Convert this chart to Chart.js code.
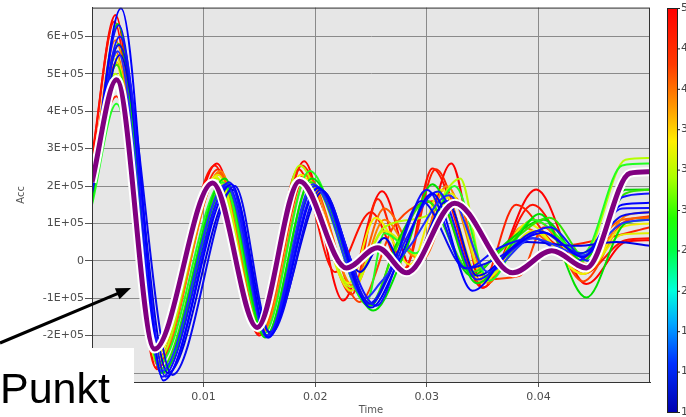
<!DOCTYPE html>
<html><head><meta charset="utf-8">
<script src="https://cdn.jsdelivr.net/npm/chart.js@4.4.1/dist/chart.umd.min.js"></script>
<style>html,body{margin:0;padding:0;background:#fff;overflow:hidden}</style>
</head><body>
<canvas id="c" width="686" height="417"></canvas>
<script>
// Axis ticks (Acc in units of 1E+05, Time in s)
const yTicks = [-3, -2, -1, 0, 1, 2, 3, 4, 5, 6];
const xTicks = [0.01, 0.02, 0.03, 0.04];
const cbLabels = ['5', '4', '4', '3', '3', '3', '2', '2', '1', '1', '1'];

// Highlighted (purple) curve: times and Acc values (x 1E+05)
const purpleT = [0, .0022, .0056, .0108, .0148, .0186, .0228, .0256, .0282, .0325, .0377, .0412, .0443, .0482, .05];
const purpleV = [2.1, 4.84, -2.36, 2.08, -1.78, 2.13, -0.19, 0.35, -0.32, 1.54, -0.32, 0.27, -0.19, 2.34, 2.38];

// Thin curves
const r1T = [0, .0021, .0058, .0112, .0150, .0190, .0225, .0260, .0288, .0322, .0350, .0398, .0443, .0478, .05];
const r1V = [2.8, 6.57, -2.9, 2.6, -2.0, 2.66, -1.06, 1.86, -0.3, 2.6, -0.72, 1.91, -0.62, 0.5, 0.55];
const r2T = [0, .0022, .0060, .0113, .0152, .0188, .0233, .0256, .0280, .0308, .0349, .0380, .0420, .0460, .05];
const r2V = [2.5, 4.4, -2.7, 2.45, -1.95, 2.55, -0.9, 1.65, -0.2, 2.45, -0.6, 1.5, 0.4, 0.6, 0.9];
const r3T = [0, .0022, .0059, .0114, .0151, .0192, .0240, .0270, .0310, .0345, .0383, .0405, .0440, .0475, .05];
const r3V = [2.3, 5.3, -2.8, 2.3, -1.9, 2.3, -1.1, 0.9, 1.6, -0.5, -0.4, 0.9, -0.55, 1.0, 1.2];
const r5T = [0, .0020, .0057, .0110, .0149, .0185, .0218, .0250, .0280, .0305, .0350, .0395, .0440, .0478, .05];
const r5V = [2.7, 6.4, -2.85, 2.55, -1.95, 2.45, -0.3, 1.3, -0.25, 2.47, -0.72, 1.5, -0.35, 0.55, 0.6];
const o1T = [0, .0021, .0060, .0115, .0153, .0193, .0235, .0262, .0290, .0318, .0352, .0395, .0445, .0478, .05];
const o1V = [2.2, 5.9, -2.6, 2.4, -1.9, 2.2, -0.7, 1.1, 0.1, 2.0, -0.5, 1.1, -0.1, 1.2, 1.3];
const o2T = [0, .0021, .0059, .0114, .0152, .0190, .0232, .0262, .0295, .0325, .0355, .0385, .0435, .0475, .05];
const o2V = [2.4, 5.6, -2.6, 2.35, -1.9, 2.3, -0.8, 1.4, 0.0, 1.7, -0.6, 0.9, 0.0, 1.1, 1.15];
const y1T = [0, .0020, .0057, .0111, .0150, .0187, .0230, .0254, .0285, .0313, .0350, .0390, .0440, .0475, .05];
const y1V = [2.0, 5.4, -2.55, 2.25, -1.85, 2.3, -0.6, 1.15, -0.1, 1.9, -0.6, 1.0, -0.35, 0.9, 1.0];
const y2T = [0, .0021, .0058, .0113, .0150, .0188, .0232, .0262, .0295, .0322, .0352, .0395, .0440, .0475, .05];
const y2V = [1.8, 5.5, -2.5, 2.3, -1.8, 2.2, -0.8, 0.8, 0.1, 1.8, -0.5, 0.8, -0.35, 0.7, 0.74];
const yg1T = [0, .0021, .0058, .0112, .0151, .0186, .0232, .0262, .0300, .0330, .0352, .0400, .0440, .0478, .05];
const yg1V = [1.7, 5.0, -2.7, 2.2, -1.9, 2.55, -0.7, 0.9, 1.2, 2.2, -0.4, 0.8, 0.1, 2.7, 2.75];
const g1T = [0, .0023, .0062, .0119, .0155, .0197, .0252, .0280, .0305, .0345, .0380, .0401, .0443, .0478, .05];
const g1V = [1.55, 6.33, -3.0, 2.2, -2.05, 2.2, -1.33, 0.2, 2.05, -0.6, 0.6, 1.25, -0.98, 1.0, 1.1];
const g2T = [0, .0022, .0060, .0117, .0154, .0195, .0246, .0262, .0290, .0325, .0356, .0395, .0440, .0475, .05];
const g2V = [1.5, 4.2, -2.75, 2.1, -1.95, 2.4, -1.1, 0.74, 0.2, 2.0, -0.53, 1.1, 0.2, 2.55, 2.6];
const g3T = [0, .0022, .0061, .0118, .0156, .0196, .0248, .0272, .0300, .0340, .0375, .0410, .0445, .0478, .05];
const g3V = [1.6, 5.24, -2.9, 2.0, -2.0, 2.1, -1.2, 0.3, 1.6, -0.3, 0.5, 1.15, 0.0, 1.8, 1.9];
const g4T = [0, .0024, .0063, .0120, .0156, .0199, .0250, .0272, .0300, .0340, .0372, .0405, .0440, .0478, .05];
const g4V = [1.65, 5.8, -3.0, 2.0, -2.0, 2.0, -1.2, 0.4, 1.6, -0.4, 0.5, 1.1, 0.0, 1.9, 1.91];
const b1T = [0, .0026, .0064, .0125, .0158, .0203, .0250, .0275, .0305, .0341, .0375, .0405, .0440, .0475, .05];
const b1V = [1.95, 6.75, -3.2, 2.05, -2.05, 1.95, -1.25, 0.0, 1.8, -0.8, 0.3, 0.75, 0.1, 1.5, 1.55];
const b2T = [0, .0025, .0066, .0123, .0157, .0200, .0255, .0280, .0310, .0345, .0380, .0410, .0445, .0475, .05];
const b2V = [1.9, 6.0, -3.1, 2.1, -2.0, 2.0, -1.2, 0.5, 1.85, -0.5, 0.4, 0.9, 0.0, 1.7, 1.8];
const b3T = [0, .0024, .0072, .0128, .0160, .0205, .0250, .0266, .0295, .0335, .0365, .0400, .0438, .0475, .05];
const b3V = [1.85, 5.77, -3.05, 2.0, -1.95, 1.9, -1.15, -0.4, 1.6, -0.2, 0.1, 0.8, 0.2, 1.2, 1.3];
const b4T = [0, .0023, .0062, .0120, .0157, .0198, .0245, .0258, .0285, .0320, .0355, .0395, .0440, .0475, .05];
const b4V = [2.0, 5.6, -2.95, 2.05, -2.0, 2.05, -1.0, -0.6, 0.4, 1.75, -0.3, 0.6, 0.15, 1.0, 1.1];
const b5T = [0, .0025, .0068, .0126, .0159, .0207, .0240, .0262, .0282, .0318, .0345, .0390, .0435, .0470, .05];
const b5V = [1.8, 5.5, -3.0, 1.9, -1.9, 1.85, -0.3, 0.61, -0.35, 1.6, -0.4, 0.5, 0.4, 0.5, 0.4];
const b6T = [0, .0024, .0063, .0122, .0157, .0202, .0248, .0275, .0300, .0335, .0365, .0395, .0435, .0475, .05];
const b6V = [2.0, 6.3, -3.1, 2.0, -2.05, 1.95, -1.15, 0.3, 1.9, -0.2, 0.35, 0.6, 0.0, 1.4, 1.41];

const thin = [
  [b1T, b1V, '#0000ff'], [b2T, b2V, '#1414ff'], [b3T, b3V, '#0a0af0'], [b4T, b4V, '#2030ff'],
  [b5T, b5V, '#0000e6'], [b6T, b6V, '#1010ff'],
  [g1T, g1V, '#00e000'], [g2T, g2V, '#22ff22'], [g3T, g3V, '#33e600'], [g4T, g4V, '#00d400'],
  [yg1T, yg1V, '#b4ff00'], [y1T, y1V, '#f0f000'], [y2T, y2V, '#e0f000'],
  [o1T, o1V, '#ff8000'], [o2T, o2V, '#ff6000'], [r3T, r3V, '#ff4000'],
  [r2T, r2V, '#ff2000'], [r5T, r5V, '#ff1000'], [r1T, r1V, '#ff0000']
];

const pts = (T, V) => T.map((t, i) => ({x: t, y: V[i]}));

const datasets = [
  {data: pts(purpleT, purpleV), borderColor: '#800080', borderWidth: 5, order: 0},
  {data: pts(purpleT, purpleV), borderColor: '#ffffff', borderWidth: 9, order: 1}
];
thin.forEach(([T, V, c]) => datasets.push({data: pts(T, V), borderColor: c, borderWidth: 2, order: 2}));
datasets.forEach(d => { d.pointRadius = 0; d.cubicInterpolationMode = 'monotone'; d.fill = false; });

Chart.defaults.font.family = '"DejaVu Sans", sans-serif';

const decor = {
  id: 'decor',
  beforeDraw(chart) {
    const {ctx, chartArea: a} = chart;
    ctx.save();
    ctx.fillStyle = '#e6e6e6';
    ctx.fillRect(a.left, a.top, a.right - a.left, a.bottom - a.top);
    ctx.restore();
  },
  afterDraw(chart) {
    const {ctx, chartArea: a} = chart;
    ctx.save();
    // frame
    ctx.strokeStyle = '#333';
    ctx.lineWidth = 1;
    ctx.strokeRect(a.left + 0.5, a.top + 0.5, a.right - a.left - 1, a.bottom - a.top);
    // colour bar
    const cx = 667, cw = 10, ct = 8, cb = 412;
    const g = ctx.createLinearGradient(0, ct, 0, cb);
    [[0, '#ff0000'], [0.14, '#ff3a00'], [0.24, '#ff9400'], [0.33, '#ffee00'], [0.42, '#aaff00'],
     [0.52, '#22ff00'], [0.6, '#00ff44'], [0.7, '#00ffdd'], [0.78, '#00a8ff'], [0.88, '#0030ff'], [1, '#0000b0']]
      .forEach(([o, c]) => g.addColorStop(o, c));
    ctx.fillStyle = g;
    ctx.fillRect(cx, ct, cw, cb - ct);
    ctx.strokeStyle = '#222';
    ctx.strokeRect(cx + 0.5, ct + 0.5, cw, cb - ct);
    ctx.fillStyle = '#444';
    ctx.font = '11px "DejaVu Sans"';
    ctx.textBaseline = 'middle';
    ctx.textAlign = 'left';
    cbLabels.forEach((l, i) => {
      const y = ct + i * (cb - ct) / (cbLabels.length - 1);
      ctx.beginPath(); ctx.moveTo(cx + cw, y + 0.5); ctx.lineTo(cx + cw + 3, y + 0.5); ctx.stroke();
      ctx.fillText(l, cx + cw + 4, y);
    });
    // annotation box
    ctx.fillStyle = '#ffffff';
    ctx.fillRect(0, 348, 134, 69);
    ctx.fillStyle = '#000';
    ctx.font = '43px "Liberation Sans", Arial, sans-serif';
    ctx.textBaseline = 'alphabetic';
    ctx.fillText('Punkt', 0, 403);
    // arrow
    const x0 = 0, y0 = 343, x1 = 131, y1 = 288;
    const ang = Math.atan2(y1 - y0, x1 - x0);
    ctx.strokeStyle = '#000'; ctx.lineWidth = 3;
    ctx.beginPath(); ctx.moveTo(x0, y0);
    ctx.lineTo(x1 - 12 * Math.cos(ang), y1 - 12 * Math.sin(ang)); ctx.stroke();
    ctx.beginPath();
    ctx.moveTo(x1, y1);
    ctx.lineTo(x1 - 15 * Math.cos(ang) + 6 * Math.sin(ang), y1 - 15 * Math.sin(ang) - 6 * Math.cos(ang));
    ctx.lineTo(x1 - 15 * Math.cos(ang) - 6 * Math.sin(ang), y1 - 15 * Math.sin(ang) + 6 * Math.cos(ang));
    ctx.closePath(); ctx.fill();
    ctx.restore();
  }
};

new Chart(document.getElementById('c'), {
  type: 'line',
  data: {datasets},
  options: {
    responsive: false, animation: false, devicePixelRatio: 1,
    layout: {padding: {top: 5, right: 36, left: 0, bottom: 0}},
    plugins: {legend: {display: false}, tooltip: {enabled: false}},
    scales: {
      x: {
        type: 'linear', min: 0, max: 0.05,
        afterBuildTicks: s => { s.ticks = xTicks.map(v => ({value: v})); },
        afterFit: s => { s.height = 35; },
        grid: {color: '#8a8a8a', tickColor: '#555', tickLength: 5},
        border: {color: '#333'},
        ticks: {color: '#4d4d4d', font: {size: 11}, padding: 4, maxRotation: 0,
          callback: v => String(v)},
        title: {display: true, text: 'Time', color: '#555', font: {size: 10}, padding: {top: 0, bottom: 1}}
      },
      y: {
        type: 'linear', min: -3.24, max: 6.77,
        afterBuildTicks: s => { s.ticks = yTicks.map(v => ({value: v})); },
        afterFit: s => { s.width = 92; },
        grid: {color: '#8a8a8a', tickColor: '#555', tickLength: 7},
        border: {color: '#333'},
        ticks: {color: '#4d4d4d', font: {size: 11}, padding: 1,
          callback: v => v === 0 ? '0' : v + 'E+05'},
        title: {display: true, text: 'Acc', color: '#555', font: {size: 10}, padding: {top: 15, bottom: 0}}
      }
    }
  },
  plugins: [decor]
});
</script>
</body></html>
